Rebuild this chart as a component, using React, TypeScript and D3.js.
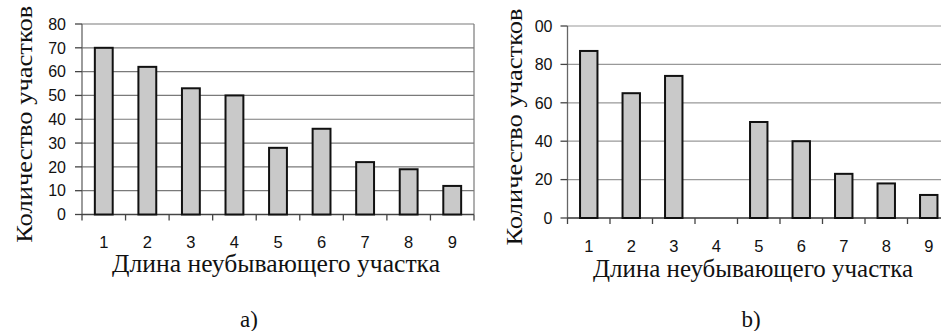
import React from "react";
import * as d3 from "d3";

// bar values
const categories = ["1", "2", "3", "4", "5", "6", "7", "8", "9"];
const countsA = [70, 62, 53, 50, 28, 36, 22, 19, 12];
const countsB = [87, 65, 74, 0, 50, 40, 23, 18, 12];
const ticksA = [0, 10, 20, 30, 40, 50, 60, 70, 80];
const ticksB = [0, 20, 40, 60, 80, 100];

const yTitle = "Количество участков";
const xTitle = "Длина неубывающего участка";

const SANS = "'Liberation Sans', Arial, sans-serif";
const SERIF = "'Liberation Serif', 'Times New Roman', serif";

type PanelProps = {
  id: string;
  values: number[];
  ticks: number[];
  left: number;
  right: number;
  top: number;
  bottom: number;
  grid: string;
  labelGap: number;
  titleX: number;
  xLabelY: number;
  xTitleX: number;
  xTitleY: number;
  xTitleLen: number;
  caption: string;
  captionX: number;
  labelClip?: number;
};

function Panel(p: PanelProps) {
  const max = p.ticks[p.ticks.length - 1];
  const y = d3.scaleLinear().domain([0, max]).range([p.bottom, p.top]);
  const band = d3.scaleBand().domain(categories).range([p.left, p.right]).padding(0);
  const bar = d3
    .scaleBand()
    .domain(categories)
    .range([p.left, p.right])
    .paddingInner(0.59)
    .paddingOuter(0.295);

  const edges = categories.map((c) => band(c) as number).concat([p.right]);

  return (
    <g>
      {p.labelClip !== undefined && (
        <clipPath id={"clip-" + p.id}>
          <rect x={p.labelClip} y={0} width={p.left - p.labelClip} height={331} />
        </clipPath>
      )}
      {/* grid */}
      {p.ticks.map((t) => (
        <line key={"g" + t} x1={p.left} x2={p.right} y1={y(t)} y2={y(t)} stroke={p.grid} strokeWidth={1.2} />
      ))}
      <line x1={p.right} x2={p.right} y1={p.top} y2={p.bottom} stroke={p.grid} strokeWidth={1.2} />
      {/* y axis */}
      <line x1={p.left} x2={p.left} y1={p.top} y2={p.bottom} stroke="#666" strokeWidth={1.3} />
      {p.ticks.map((t) => (
        <line key={"yt" + t} x1={p.left - 7} x2={p.left} y1={y(t)} y2={y(t)} stroke="#444" strokeWidth={1.3} />
      ))}
      <g clipPath={p.labelClip !== undefined ? `url(#clip-${p.id})` : undefined}>
        {p.ticks.map((t) => (
          <text
            key={"yl" + t}
            x={p.left - p.labelGap}
            y={y(t)}
            dy="0.36em"
            textAnchor="end"
            fontFamily={SANS}
            fontSize={16}
            fill="#111"
          >
            {t}
          </text>
        ))}
      </g>
      {/* x axis */}
      <line x1={p.left} x2={p.right} y1={p.bottom} y2={p.bottom} stroke="#444" strokeWidth={1.3} />
      {edges.map((x, i) => (
        <line key={"xt" + i} x1={x} x2={x} y1={p.bottom} y2={p.bottom + 6} stroke="#444" strokeWidth={1.3} />
      ))}
      {/* bars */}
      {p.values.map((v, i) =>
        v > 0 ? (
          <rect
            key={"b" + i}
            x={bar(categories[i])}
            y={y(v)}
            width={bar.bandwidth()}
            height={p.bottom - y(v)}
            fill="#c9c9c9"
            stroke="#111"
            strokeWidth={2}
          />
        ) : null
      )}
      {categories.map((c) => (
        <text
          key={"xl" + c}
          x={(band(c) as number) + band.bandwidth() / 2}
          y={p.xLabelY}
          textAnchor="middle"
          fontFamily={SANS}
          fontSize={16.5}
          fill="#111"
        >
          {c}
        </text>
      ))}
      {/* titles */}
      <text
        transform={`translate(${p.titleX},${(p.top + p.bottom) / 2 + 5}) rotate(-90)`}
        textAnchor="middle"
        fontFamily={SERIF}
        fontSize={24}
        textLength={237}
        lengthAdjust="spacingAndGlyphs"
        fill="#111"
      >
        {yTitle}
      </text>
      <text
        x={p.xTitleX}
        y={p.xTitleY}
        textAnchor="middle"
        fontFamily={SERIF}
        fontSize={25}
        textLength={p.xTitleLen}
        lengthAdjust="spacingAndGlyphs"
        fill="#111"
      >
        {xTitle}
      </text>
      <text x={p.captionX} y={327} textAnchor="middle" fontFamily={SERIF} fontSize={23} fill="#111">
        {p.caption}
      </text>
    </g>
  );
}

export default function App() {
  return (
    <>
      <style>{"body{margin:0}"}</style>
      <svg width={941} height={331} style={{ display: "block", background: "#fff" }}>
        <Panel
          id="a"
          values={countsA}
          ticks={ticksA}
          left={82}
          right={474}
          top={24}
          bottom={214.5}
          grid="#7a7a7a"
          labelGap={16}
          titleX={32}
          xLabelY={247.5}
          xTitleX={276}
          xTitleY={272}
          xTitleLen={328}
          caption="a)"
          captionX={249}
        />
        <Panel
          id="b"
          values={countsB}
          ticks={ticksB}
          left={567.5}
          right={950}
          top={26}
          bottom={218}
          grid="#999"
          labelGap={15}
          titleX={522}
          xLabelY={252}
          xTitleX={753}
          xTitleY={277}
          xTitleLen={320}
          caption="b)"
          captionX={751}
          labelClip={534.5}
        />
      </svg>
    </>
  );
}
